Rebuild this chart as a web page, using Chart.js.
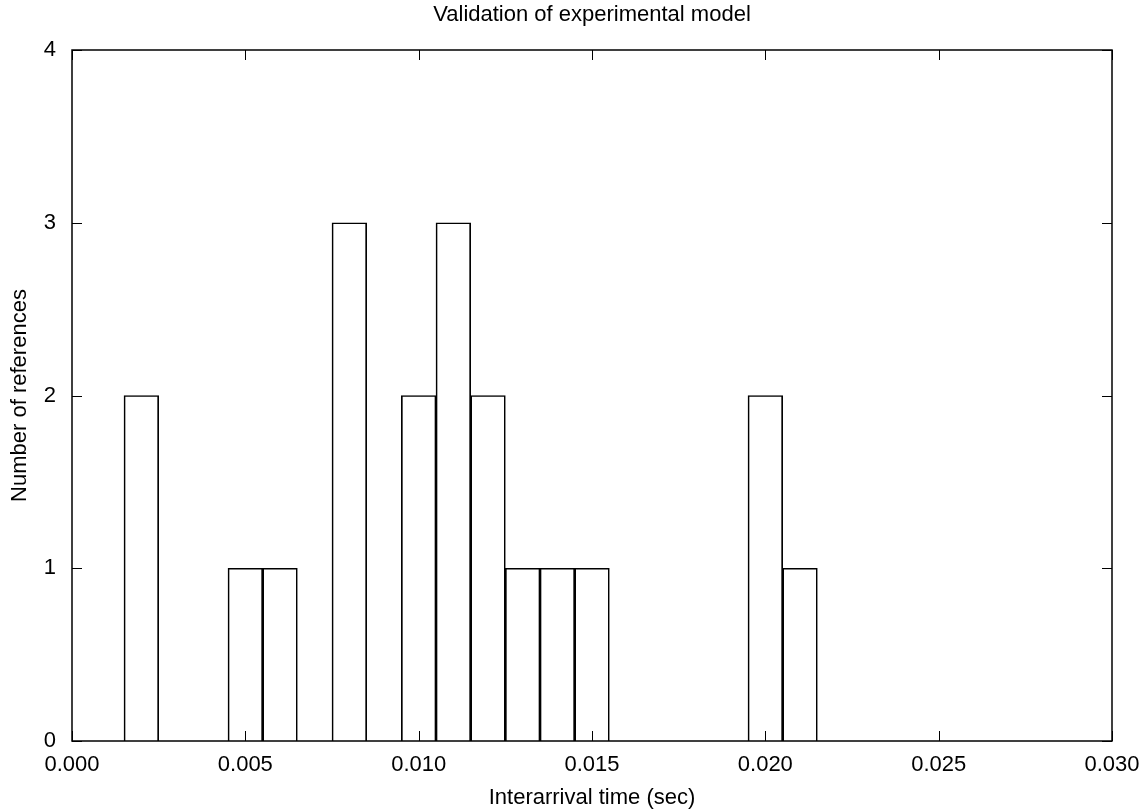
<!DOCTYPE html>
<html>
<head>
<meta charset="utf-8">
<script src="https://cdn.jsdelivr.net/npm/chart.js@4.4.1/dist/chart.umd.min.js"></script>
<style>
  html, body { margin: 0; padding: 0; background: #fff; }
  #wrap { width: 1145px; height: 811px; }
</style>
</head>
<body>
<div id="wrap"><canvas id="c" width="1145" height="811"></canvas></div>
<script>
// ---- data ----
const binCenters = [0.002, 0.005, 0.006, 0.008, 0.010, 0.011, 0.012, 0.013, 0.014, 0.015, 0.020, 0.021];
const counts     = [2,     1,     1,     3,     2,     3,     2,     1,     1,     1,     2,     1];
const xTickValues = [0.000, 0.005, 0.010, 0.015, 0.020, 0.025, 0.030];
const xTickLabels = ['0.000', '0.005', '0.010', '0.015', '0.020', '0.025', '0.030'];
const yTickValues = [0, 1, 2, 3, 4];
const yTickLabels = ['0', '1', '2', '3', '4'];
const chartTitle = 'Validation of experimental model';
const xTitle = 'Interarrival time (sec)';
const yTitle = 'Number of references';

const FONT = '"Liberation Sans", Arial, Helvetica, sans-serif';
Chart.defaults.color = '#000';
Chart.defaults.font.family = FONT;
Chart.defaults.font.size = 22;

const framePlugin = {
  id: 'frame',
  afterDatasetsDraw(chart) {
    const { ctx, chartArea: a, scales: { x, y } } = chart;
    ctx.save();
    ctx.strokeStyle = '#000';
    ctx.lineWidth = 1;
    ctx.beginPath();
    xTickValues.forEach(v => {
      const px = Math.round(x.getPixelForValue(v)) + 0.5;
      ctx.moveTo(px, a.bottom); ctx.lineTo(px, a.bottom - 10);
      ctx.moveTo(px, a.top); ctx.lineTo(px, a.top + 10);
    });
    yTickValues.forEach(v => {
      const py = Math.round(y.getPixelForValue(v)) + 0.5;
      ctx.moveTo(a.left, py); ctx.lineTo(a.left + 10, py);
      ctx.moveTo(a.right, py); ctx.lineTo(a.right - 10, py);
    });
    ctx.stroke();
    ctx.lineWidth = 1.5;
    ctx.strokeRect(a.left, a.top, a.right - a.left, a.bottom - a.top);
    ctx.restore();
  }
};

new Chart(document.getElementById('c'), {
  type: 'bar',
  data: {
    datasets: [{
      data: binCenters.map((c, i) => ({ x: c, y: counts[i] })),
      backgroundColor: 'rgba(255,255,255,0)',
      borderColor: '#000',
      borderWidth: 1,
      barPercentage: 1,
      categoryPercentage: 1
    }]
  },
  options: {
    responsive: false,
    animation: false,
    layout: { padding: { left: 0, right: 33, top: 0, bottom: 0 } },
    plugins: {
      legend: { display: false },
      tooltip: { enabled: false },
      title: {
        display: true,
        fullSize: false,
        text: chartTitle,
        font: { size: 22, weight: 'normal', family: FONT },
        color: '#000',
        padding: { top: 2, bottom: 21.6 }
      }
    },
    scales: {
      x: {
        type: 'linear',
        min: 0, max: 0.03,
        offset: false,
        grid: { display: false, drawTicks: false, offset: false },
        border: { display: false },
        afterBuildTicks: s => { s.ticks = xTickValues.map(v => ({ value: v })); },
        afterFit: s => { s.height = 70; s.paddingLeft = 0; s.paddingRight = 0; },
        ticks: {
          padding: 11,
          maxRotation: 0,
          autoSkip: false,
          font: { size: 22, family: FONT },
          callback: (v) => { const i = xTickValues.findIndex(t => Math.abs(t - v) < 1e-9); return i >= 0 ? xTickLabels[i] : ''; }
        },
        title: {
          display: true, text: xTitle,
          font: { size: 22, family: FONT },
          padding: { top: 6, bottom: 0.3 }
        }
      },
      y: {
        type: 'linear',
        min: 0, max: 4,
        grid: { display: false, drawTicks: false },
        border: { display: false },
        afterBuildTicks: s => { s.ticks = yTickValues.map(v => ({ value: v })); },
        afterFit: s => { s.width = 72; s.paddingTop = 0; s.paddingBottom = 0; },
        ticks: {
          padding: 16,
          font: { size: 22, family: FONT },
          callback: (v) => { const i = yTickValues.indexOf(v); return i >= 0 ? yTickLabels[i] : ''; }
        },
        title: {
          display: true, text: yTitle,
          font: { size: 22, family: FONT },
          padding: { top: 7, bottom: 10.4 }
        }
      }
    }
  },
  plugins: [framePlugin]
});
</script>
</body>
</html>
